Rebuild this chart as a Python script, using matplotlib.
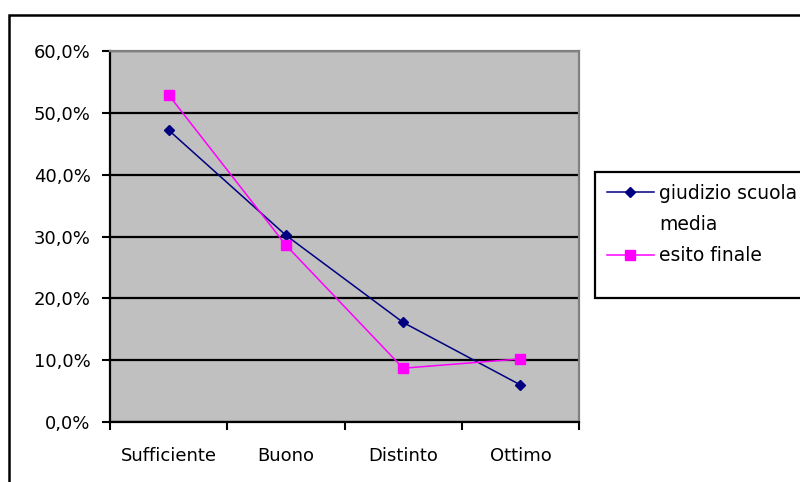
import matplotlib.pyplot as plt
from matplotlib.patches import Rectangle
from matplotlib.lines import Line2D
from matplotlib.ticker import FuncFormatter, FixedLocator

# Dati
categorie = ['Sufficiente', 'Buono', 'Distinto', 'Ottimo']
giudizio_scuola_media = [47.2, 30.2, 16.1, 6.0]
esito_finale = [52.9, 28.6, 8.7, 10.2]
y_ticks = [0, 10, 20, 30, 40, 50, 60]

plt.rcParams['font.family'] = ['DejaVu Sans']
plt.rcParams['font.size'] = 13

fig = plt.figure(figsize=(8, 4.82), dpi=100)
fig.patch.set_facecolor('white')

# bordo esterno del grafico
fig.add_artist(Rectangle((9 / 800, -0.2), 1.2, 1 - 15 / 482 + 0.2, transform=fig.transFigure,
                         fill=False, edgecolor='black', linewidth=1.8, clip_on=False))

ax = fig.add_axes([110 / 800, 1 - 422 / 482, 469 / 800, 371 / 482])
ax.set_facecolor('#c0c0c0')

x = list(range(len(categorie)))
l1, = ax.plot(x, giudizio_scuola_media, color='#000080', marker='D', markersize=5.5,
              linewidth=1.1, zorder=3)
l2, = ax.plot(x, esito_finale, color='#ff00ff', marker='s', markersize=7,
              linewidth=1.1, zorder=3)

ax.set_xlim(-0.5, len(categorie) - 0.5)
ax.set_ylim(0, 60)
ax.set_yticks(y_ticks)
ax.yaxis.set_major_formatter(FuncFormatter(lambda v, p: f'{v:.1f}%'.replace('.', ',')))
ax.grid(axis='y', color='black', linewidth=1.6)
ax.set_axisbelow(True)

ax.xaxis.set_major_locator(FixedLocator([i - 0.5 for i in range(len(categorie) + 1)]))
ax.xaxis.set_major_formatter(FuncFormatter(lambda v, p: ''))
ax.xaxis.set_minor_locator(FixedLocator(x))
ax.set_xticklabels(categorie, minor=True)
ax.tick_params(axis='x', which='minor', length=0, pad=18)
ax.tick_params(axis='x', which='major', length=6, width=1.5, direction='out')
ax.tick_params(axis='y', length=6, width=1.5, direction='out', pad=8)

for s in ['left', 'bottom']:
    ax.spines[s].set_color('black')
    ax.spines[s].set_linewidth(1.6)
for s in ['top', 'right']:
    ax.spines[s].set_color('#808080')
    ax.spines[s].set_linewidth(1.6)

# cornice della legenda (sotto la legenda)
ax.add_patch(Rectangle((595 / 800, 1 - 298 / 482), 0.3, 126 / 482, transform=fig.transFigure,
                       fill=True, facecolor='white', edgecolor='black', linewidth=1.6,
                       clip_on=False, zorder=4))

vuoto = Line2D([], [], linestyle='none')
leg = ax.legend([l1, vuoto, l2], ['giudizio scuola', 'media', 'esito finale'],
                loc='upper left', bbox_to_anchor=(595 / 800, 1 - 172 / 482),
                bbox_transform=fig.transFigure, frameon=False, fontsize=13.5,
                handlelength=2.5, borderpad=0.62, labelspacing=0.66,
                handletextpad=0.3, borderaxespad=0)
leg.set_zorder(6)

plt.savefig('out.png', dpi=100)
plt.close()
